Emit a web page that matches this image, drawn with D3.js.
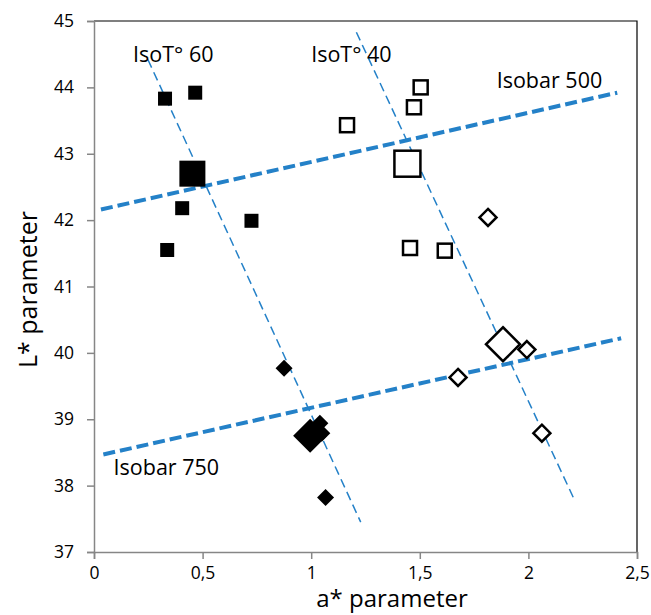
<!DOCTYPE html>
<meta charset="utf-8">
<style>
  body { margin: 0; background: #fff; }
  text { font-family: "Open Sans", sans-serif; fill: #000; }
</style>
<script src="https://d3js.org/d3.v7.min.js"></script>
<div id="chart"></div>
<script>
// data: [a*, L*, size]
var filledSquares = [[0.327, 43.83, 1], [0.466, 43.92, 1], [0.453, 42.70, 2],
                     [0.406, 42.18, 1], [0.725, 41.99, 1], [0.337, 41.55, 1]];
var openSquares   = [[1.504, 44.00, 1], [1.473, 43.70, 1], [1.165, 43.43, 1],
                     [1.443, 42.85, 2], [1.455, 41.58, 1], [1.615, 41.54, 1]];
var filledDiamonds = [[0.875, 39.77, 1], [0.995, 38.75, 2], [1.040, 38.94, 1],
                      [1.049, 38.79, 1], [1.066, 37.82, 1]];
var openDiamonds  = [[1.814, 42.04, 1], [1.883, 40.13, 2], [1.993, 40.05, 1],
                     [1.676, 39.63, 1], [2.062, 38.79, 1]];

// guide lines [x1, y1, x2, y2]
var isobars = [[0.032, 42.16, 2.409, 43.92], [0.043, 38.47, 2.427, 40.22]];
var isotherms = [[0.248, 44.42, 1.228, 37.45], [1.208, 44.83, 2.207, 37.82]];

var labels = [
  {text: "IsoT\u00b0 60", x: 0.18, y: 44.38},
  {text: "IsoT\u00b0 40", x: 1.0, y: 44.38},
  {text: "Isobar 500", x: 1.854, y: 43.99},
  {text: "Isobar 750", x: 0.09, y: 38.16}
];

var xTicks = [0, 0.5, 1, 1.5, 2, 2.5];
var yTicks = [37, 38, 39, 40, 41, 42, 43, 44, 45];

var W = 651, H = 615;
var margin = {top: 21, right: 14, bottom: 63, left: 94};
var width = W - margin.left - margin.right,
    height = H - margin.top - margin.bottom;

var svg = d3.select("#chart").append("svg")
  .attr("width", W).attr("height", H)
  .append("g")
  .attr("transform", "translate(" + margin.left + "," + margin.top + ")");

var x = d3.scaleLinear().domain([0, 2.5]).range([0, width]);
var y = d3.scaleLinear().domain([37, 45]).range([height, 0]);

// frame: top and right in black
svg.append("path")
  .attr("d", "M0,0H" + width + "V" + height)
  .attr("fill", "none").attr("stroke", "#000").attr("stroke-width", 1.2);

var fmt = function(d) { return String(d).replace(".", ","); };

var yAxis = svg.append("g")
  .call(d3.axisLeft(y).tickValues(yTicks).tickSize(7).tickPadding(13).tickFormat(fmt));
var xAxis = svg.append("g")
  .attr("transform", "translate(0," + height + ")")
  .call(d3.axisBottom(x).tickValues(xTicks).tickSize(7).tickPadding(8).tickFormat(fmt));
[xAxis, yAxis].forEach(function(a) {
  a.selectAll("path, line").attr("stroke", "#868686").attr("stroke-width", 1.5);
  a.selectAll("text").style("font-size", "17.5px").attr("fill", "#000");
});

// guide lines
var blue = "#2481c8";
svg.selectAll(".isobar").data(isobars).enter().append("line")
  .attr("x1", function(d) { return x(d[0]); }).attr("y1", function(d) { return y(d[1]); })
  .attr("x2", function(d) { return x(d[2]); }).attr("y2", function(d) { return y(d[3]); })
  .attr("stroke", blue).attr("stroke-width", 4).attr("stroke-dasharray", "12,5");
svg.selectAll(".isot").data(isotherms).enter().append("line")
  .attr("x1", function(d) { return x(d[0]); }).attr("y1", function(d) { return y(d[1]); })
  .attr("x2", function(d) { return x(d[2]); }).attr("y2", function(d) { return y(d[3]); })
  .attr("stroke", blue).attr("stroke-width", 1.5).attr("stroke-dasharray", "9,5");

// markers
function squares(data, filled) {
  svg.selectAll(null).data(data).enter().append("rect")
    .attr("x", function(d) { var s = d[2] == 2 ? 26 : 14; return x(d[0]) - s / 2; })
    .attr("y", function(d) { var s = d[2] == 2 ? 26 : 14; return y(d[1]) - s / 2; })
    .attr("width", function(d) { return d[2] == 2 ? 26 : 14; })
    .attr("height", function(d) { return d[2] == 2 ? 26 : 14; })
    .attr("fill", filled ? "#000" : "#fff")
    .attr("stroke", "#000").attr("stroke-width", filled ? 0 : 2.5);
}
function diamonds(data, filled) {
  svg.selectAll(null).data(data).enter().append("path")
    .attr("d", function(d) {
      var r = d[2] == 2 ? 17 : 8.5, cx = x(d[0]), cy = y(d[1]);
      return "M" + cx + "," + (cy - r) + "L" + (cx + r) + "," + cy + "L" + cx + "," + (cy + r) + "L" + (cx - r) + "," + cy + "Z";
    })
    .attr("fill", filled ? "#000" : "#fff")
    .attr("stroke", "#000").attr("stroke-width", filled ? 0 : 2.5);
}
squares(filledSquares, true);
squares(openSquares, false);
diamonds(filledDiamonds, true);
diamonds(openDiamonds, false);

// line labels
svg.selectAll(".lbl").data(labels).enter().append("text")
  .attr("x", function(d) { return x(d.x); })
  .attr("y", function(d) { return y(d.y); })
  .style("font-size", "21.5px")
  .text(function(d) { return d.text; });

// axis titles
svg.append("text")
  .attr("x", 298).attr("y", height + 55)
  .attr("text-anchor", "middle")
  .style("font-size", "24px")
  .text("a* parameter");
svg.append("text")
  .attr("transform", "translate(-57," + (y(41) + 3) + ") rotate(-90)")
  .attr("text-anchor", "middle")
  .style("font-size", "25px")
  .text("L* parameter");
</script>
